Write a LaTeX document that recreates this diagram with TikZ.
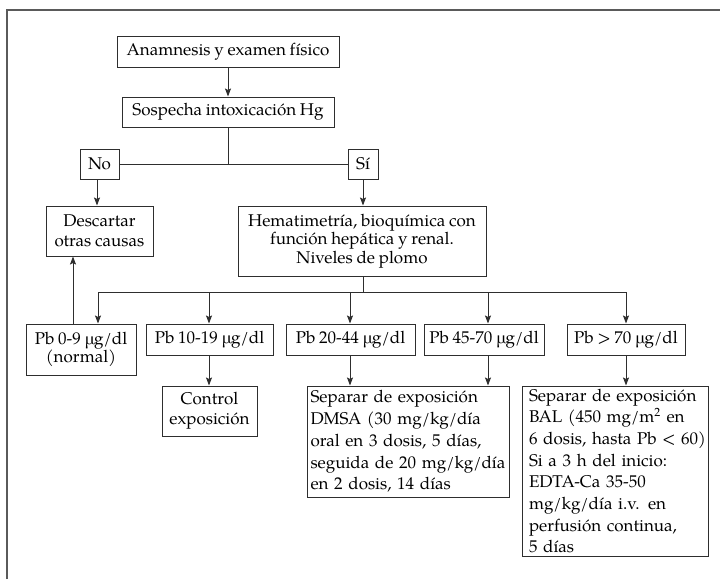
\documentclass[tikz,border=0pt]{standalone}
\usepackage{fontspec}
\setmainfont{TeX Gyre Pagella}[WordSpace=0.88]
\usetikzlibrary{arrows.meta,calc}
\definecolor{boxc}{HTML}{2E2E2E}
\definecolor{linec}{HTML}{2E2E2E}
\definecolor{framec}{HTML}{5A5A5A}
\newcommand{\ug}{µ\kern-2pt g}
\tikzset{
  box/.style={draw=boxc, line width=1pt, inner sep=0pt, align=center,
    font=\fontsize{17pt}{20pt}\selectfont, text=black},
  lbox/.style={box, align=left},
  arr/.style={-{Stealth[length=8pt,width=6pt,inset=1.5pt]}, line width=1pt, draw=linec},
  ln/.style={line width=1pt, draw=linec},
}
\begin{document}
\begin{tikzpicture}[x=1pt,y=-1pt]
\useasboundingbox (0,0) rectangle (720,579);
% frame
\draw[framec, line width=1.3pt] (7,579) -- (7,10) -- (720,10);

\node[box, minimum width=222pt, minimum height=31pt] (anam) at (228,51.5) {Anamnesis y examen físico};
\node[box, minimum width=212pt, minimum height=30pt] (sosp) at (228,112) {Sospecha intoxicación Hg};
\node[box, minimum width=39pt, minimum height=30pt] (no) at (99.5,164) {No};
\node[box, minimum width=30pt, minimum height=30pt] (si) at (363,164) {Sí};
\node[box, minimum width=107pt, minimum height=50pt] (desc) at (99.5,231) {Descartar\\otras causas};
\node[box, minimum width=248pt, minimum height=70pt, font=\fontsize{17pt}{18.5pt}\selectfont] (hem) at (362,241) {Hematimetría, bioquímica con\\función hepática y renal.\\Niveles de plomo};

\node[box, minimum width=110pt, minimum height=51pt, font=\fontsize{17pt}{18pt}\selectfont] (pb1) at (81,349.5) {Pb 0-9 \ug/dl\\(normal)};
\node[box, minimum width=127pt, minimum height=31pt] (pb2) at (209.5,339.5) {Pb 10-19 \ug/dl};
\node[box, minimum width=129pt, minimum height=31pt] (pb3) at (350.5,339.5) {Pb 20-44 \ug/dl};
\node[box, minimum width=120pt, minimum height=31pt] (pb4) at (484,339.5) {Pb 45-70 \ug/dl};
\node[box, minimum width=118pt, minimum height=31pt] (pb5) at (626,339.5) {Pb > 70 \ug/dl};

\node[box, minimum width=95pt, minimum height=50pt] (ctrl) at (209.5,411) {Control\\exposición};
\node[lbox, text width=195pt, inner xsep=3.5pt, minimum height=111pt,
  font=\fontsize{17pt}{21.7pt}\selectfont] (dmsa) at (408,441.5)
  {\mbox{Separar de exposición}\\\mbox{DMSA (30 mg/kg/día}\\\mbox{oral en 3 dosis, 5 días,}\\\mbox{seguida de 20 mg/kg/día}\\\mbox{en 2 dosis, 14 días}};
\node[lbox, text width=172pt, inner xsep=7pt, minimum height=170pt,
  font=\fontsize{17pt}{21.7pt}\selectfont] (bal) at (615,471)
  {\mbox{Separar de exposición}\\\mbox{BAL (450 mg/m\textsuperscript{2} en}\\\mbox{6 dosis, hasta Pb < 60)}\\\mbox{Si a 3 h del inicio:}\\\mbox{EDTA-Ca 35-50}\\\mbox{mg/kg/día i.v. en}\\\mbox{perfusión continua,}\\\mbox{5 días}};

% connectors
\draw[arr] (anam) -- (sosp);
\draw[ln] (no.east) -- (si.west);
\draw[ln] (sosp.south) -- (sosp.south |- no.east);
\draw[arr] (no.south -| 97,0) -- (desc.north -| 97,0);
\draw[arr] (si.south) -- (si.south |- hem.north);

\coordinate (bus) at (363,292);
\coordinate (b1) at (98,292);
\coordinate (b2) at (209,292);
\coordinate (b3) at (350,292);
\coordinate (b4) at (488,292);
\coordinate (b5) at (626,292);
\draw[ln] (hem.south -| bus) -- (bus);
\draw[ln] (b1) -- (b5);
\foreach \b/\p in {b1/pb1,b2/pb2,b3/pb3,b4/pb4,b5/pb5}{
  \draw[arr] (\b) -- (\b |- \p.north);
}
\coordinate (up) at (73,0);
\draw[arr] (up |- pb1.north) -- (up |- desc.south);

\draw[arr] (b2 |- pb2.south) -- (b2 |- ctrl.north);
\draw[arr] (b3 |- pb3.south) -- (b3 |- dmsa.north);
\draw[arr] (b4 |- pb4.south) -- (b4 |- dmsa.north);
\draw[arr] (b5 |- pb5.south) -- (b5 |- bal.north);
\end{tikzpicture}
\end{document}
